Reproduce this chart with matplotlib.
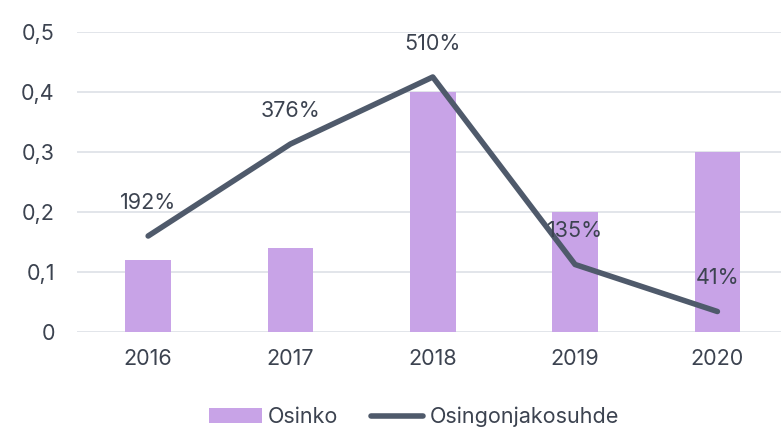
import matplotlib.pyplot as plt
import numpy as np

years = ["2016", "2017", "2018", "2019", "2020"]
osinko = [0.12, 0.14, 0.40, 0.20, 0.30]
jakosuhde = [1.92, 3.76, 5.10, 1.35, 0.41]
jakosuhde_labels = ["192%", "376%", "510%", "135%", "41%"]

bar_color = "#c8a3e7"
line_color = "#4f5a6b"
text_color = "#3c4350"

plt.rcParams["font.family"] = ["Inter", "DejaVu Sans"]

fig = plt.figure(figsize=(7.81, 4.28), dpi=100)
ax = fig.add_axes([77 / 781, (428 - 332) / 428, 704 / 781, 300 / 428])
x = np.arange(len(years))

bars = ax.bar(x, osinko, width=0.32, color=bar_color, label="Osinko", zorder=2)
ax.set_ylim(0, 0.5)
ax.set_xlim(-0.5, 4.447)
ax.set_yticks([0, 0.1, 0.2, 0.3, 0.4, 0.5])
ax.set_yticklabels(["0", "0,1", "0,2", "0,3", "0,4", "0,5"])
ax.set_xticks(x)
ax.set_xticklabels(years)
ax.tick_params(axis="both", length=0, labelsize=15.5, colors=text_color)
ax.tick_params(axis="x", pad=12)
ax.tick_params(axis="y", pad=16)
ax.grid(axis="y", color="#dfe3e8", linewidth=1.3, zorder=0)
for s in ax.spines.values():
    s.set_visible(False)

ax2 = ax.twinx()
(line,) = ax2.plot(x, jakosuhde, color=line_color, linewidth=4,
                   solid_capstyle="round", solid_joinstyle="round",
                   label="Osingonjakosuhde", zorder=3)
ax2.set_ylim(0, 6)
ax2.set_yticks([])
for s in ax2.spines.values():
    s.set_visible(False)

for xi, yi, lab in zip(x, jakosuhde, jakosuhde_labels):
    ax2.annotate(lab, (xi, yi), xytext=(0, 24), textcoords="offset points",
                 ha="center", va="center", fontsize=15.5, color=text_color)

fig.legend([bars, line], ["Osinko", "Osingonjakosuhde"],
           loc="center", bbox_to_anchor=(414 / 781, 1 - 417 / 428),
           ncol=2, frameon=False, fontsize=15.5, handlelength=2.45,
           handleheight=0.7, handletextpad=0.28, columnspacing=1.5,
           labelcolor=text_color)

fig.savefig("out.png", dpi=100)
